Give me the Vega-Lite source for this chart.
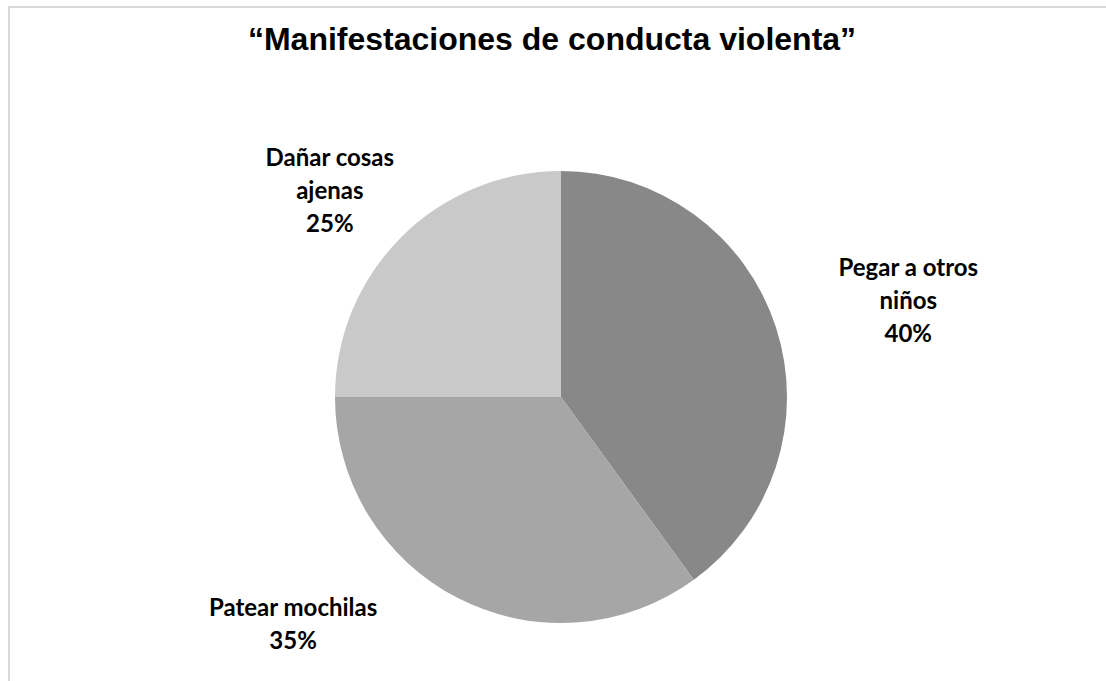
{
  "$schema": "https://vega.github.io/schema/vega-lite/v6.json",
  "autosize": "none",
  "padding": {"left": 9, "top": 7, "right": 0, "bottom": 0},
  "width": 1104,
  "height": 780,
  "background": "white",
  "view": {"stroke": "#d9d9d9", "strokeWidth": 2, "fill": "white"},
  "title": {
    "text": "“Manifestaciones de conducta violenta”",
    "font": "Liberation Sans",
    "fontSize": 32,
    "fontWeight": "bold",
    "color": "#000000",
    "anchor": "middle",
    "baseline": "alphabetic",
    "offset": 0,
    "dx": -9,
    "dy": 75
  },
  "data": {
    "values": [
      {"categoria": "Pegar a otros niños", "porcentaje": 40},
      {"categoria": "Patear mochilas", "porcentaje": 35},
      {"categoria": "Dañar cosas ajenas", "porcentaje": 25}
    ]
  },
  "encoding": {
    "theta": {"field": "porcentaje", "type": "quantitative", "stack": true},
    "order": {"field": "categoria", "sort": "descending"}
  },
  "layer": [
    {
      "mark": {"type": "arc", "radius": 226},
      "encoding": {
        "color": {
          "field": "categoria",
          "type": "nominal",
          "scale": {
            "domain": ["Pegar a otros niños", "Patear mochilas", "Dañar cosas ajenas"],
            "range": ["#888888", "#a6a6a6", "#c9c9c9"]
          },
          "legend": null
        }
      }
    },
    {
      "mark": {"type": "text", "radius": 362, "dx": 3, "dy": -16, "font": "Lato", "fontSize": 24, "fontWeight": "bold", "lineHeight": 33, "align": "center", "baseline": "middle", "color": "#000000"},
      "encoding": {
        "text": {"condition": {"test": "datum.categoria === 'Pegar a otros niños'", "value": ["Pegar a otros", "niños", "40%"]}, "value": ""}
      }
    },
    {
      "mark": {"type": "text", "radius": 310, "dx": -12, "dy": -19, "font": "Lato", "fontSize": 24, "fontWeight": "bold", "lineHeight": 33, "align": "center", "baseline": "middle", "color": "#000000"},
      "encoding": {
        "text": {"condition": {"test": "datum.categoria === 'Dañar cosas ajenas'", "value": ["Dañar cosas", "ajenas", "25%"]}, "value": ""}
      }
    },
    {
      "mark": {"type": "text", "radius": 350, "dx": -109, "dy": -100, "font": "Lato", "fontSize": 24, "fontWeight": "bold", "lineHeight": 33, "align": "center", "baseline": "middle", "color": "#000000"},
      "encoding": {
        "text": {"condition": {"test": "datum.categoria === 'Patear mochilas'", "value": ["Patear mochilas", "35%"]}, "value": ""}
      }
    }
  ]
}
